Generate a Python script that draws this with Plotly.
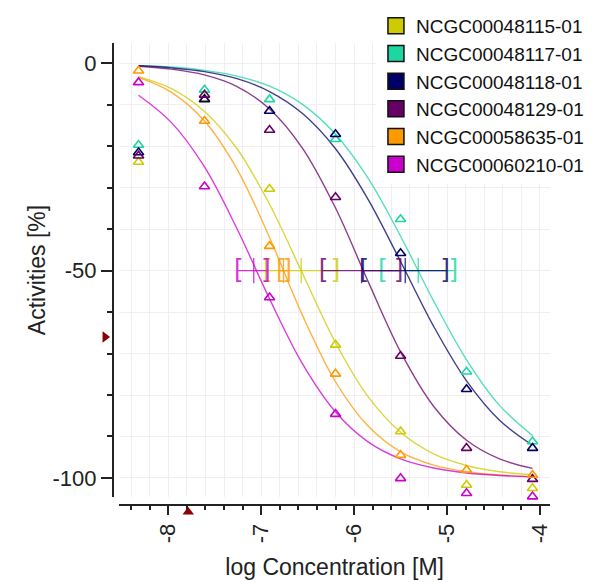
import plotly.graph_objects as go

# ---------------- data ----------------
compounds = ["NCGC00048115-01", "NCGC00048117-01", "NCGC00048118-01",
             "NCGC00048129-01", "NCGC00058635-01", "NCGC00060210-01"]
colors = ["#cccc00", "#1ed6a2", "#000066", "#660066", "#ff9900", "#cc00cc"]

log_conc = [-8.32, -7.61, -6.91, -6.20, -5.50, -4.79, -4.08]
act_48115 = [-23.8, -8.5, -30.3, -67.9, -88.8, -101.7, -102.5]
act_48117 = [-19.7, -6.4, -8.7, -18.3, -37.6, -74.4, -91.2]
act_48118 = [-21.5, -8.7, -11.5, -17.1, -45.8, -78.6, -92.8]
act_48129 = [-22.3, -7.6, -16.1, -32.3, -70.6, -92.8, -100.3]
act_58635 = [-1.8, -13.9, -44.1, -74.9, -94.5, -98.1, -99.3]
act_60210 = [-4.6, -29.7, -56.5, -84.6, -100.1, -103.7, -104.5]

curve_x = [-8.32, -7.965, -7.61, -7.26, -6.91, -6.555, -6.20, -5.85, -5.50, -5.145, -4.79, -4.435, -4.08]
fit_48115 = [-3.2, -6.1, -11.6, -20.6, -34.0, -50.7, -67.4, -80.4, -89.0, -94.2, -97.0, -98.5, -99.2]
fit_48117 = [-0.5, -0.9, -1.7, -3.1, -5.5, -9.9, -17.1, -27.7, -41.7, -57.3, -71.5, -82.5, -89.8]
fit_48118 = [-0.6, -1.1, -2.0, -3.7, -6.8, -12.1, -20.6, -32.8, -47.8, -63.4, -76.6, -86.1, -92.1]
fit_48129 = [-0.7, -1.4, -2.8, -5.6, -11.0, -20.5, -34.9, -52.6, -69.6, -82.7, -90.9, -95.4, -97.7]
fit_58635 = [-3.4, -7.0, -13.9, -25.5, -42.0, -60.8, -76.8, -87.5, -93.7, -96.9, -98.5, -99.3, -99.7]
fit_60210 = [-7.7, -14.3, -25.0, -39.9, -56.8, -72.5, -84.1, -91.3, -95.4, -97.6, -98.8, -99.4, -99.7]

ac50_y = -50
ac50 = [-6.57, -5.31, -5.45, -5.92, -6.76, -7.08]
ac50_lo = [-6.94, -5.70, -5.90, -6.34, -6.80, -7.25]
ac50_hi = [-6.19, -4.92, -5.01, -5.51, -6.71, -6.94]

marker_y_axis = [-8.68, -66.0]    # red handle beside the y axis (x, y)
marker_x_axis = [-7.785, -108.2]  # red handle below the x axis (x, y)

x_tick_vals = [-8, -7, -6, -5, -4]
x_tick_text = ["-8", "-7", "-6", "-5", "-4"]
y_tick_vals = [0, -50, -100]
y_tick_text = ["0", "-50", "-100"]

acts = [act_48115, act_48117, act_48118, act_48129, act_58635, act_60210]
fits = [fit_48115, fit_48117, fit_48118, fit_48129, fit_58635, fit_60210]

FONT = "Liberation Sans, Arial, sans-serif"
GRID = "#f3ecf3"
AXC = "#222222"

# ---------------- layout geometry (pixels) ----------------
W, H = 598, 582
L, R, T, B = 90, 558, 10, 525          # paper box
X0PX, X1PX = 119.3, 550                 # x axis line extent
Y0PX, Y1PX = 497, 43                    # y axis line extent (bottom, top)
XAX_PX, YAX_PX = 505, 113               # axis line positions
XR = [-8.527, -3.892]
YR = [-104.6, 4.9]

pw, ph = R - L, B - T
def fx(px): return (px - L) / pw
def fy(py): return (B - py) / ph
xpx_per = (X1PX - X0PX) / (XR[1] - XR[0])
ypx_per = (Y0PX - Y1PX) / (YR[1] - YR[0])
helper_xr = [XR[0] - (X0PX - L) / xpx_per, XR[1] + (R - X1PX) / xpx_per]
helper_yr = [YR[0] - (B - Y0PX) / ypx_per, YR[1] + (Y1PX - T) / ypx_per]

fig = go.Figure()

# fitted curves
for name, col, fyv in zip(compounds, colors, fits):
    fig.add_trace(go.Scatter(x=curve_x, y=fyv, mode="lines", line=dict(color=col, width=1.4, shape="spline"),
                             opacity=0.75, showlegend=False, hoverinfo="skip"))

# AC50 confidence brackets
for name, col, c, lo, hi in zip(compounds, colors, ac50, ac50_lo, ac50_hi):
    fig.add_trace(go.Scatter(x=[lo, hi], y=[ac50_y, ac50_y], mode="lines+text", text=["[", "]"],
                             textposition="middle center",
                             textfont=dict(family=FONT, size=26, color=col),
                             line=dict(color=col, width=1.3), opacity=0.8,
                             showlegend=False, hoverinfo="skip", cliponaxis=False))
    fig.add_trace(go.Scatter(x=[c], y=[ac50_y], mode="markers",
                             marker=dict(symbol="line-ns", size=18, line=dict(color=col, width=1.3)),
                             opacity=0.8, showlegend=False, hoverinfo="skip"))

# data points
for name, col, ay in zip(compounds, colors, acts):
    fig.add_trace(go.Scatter(x=log_conc, y=ay, mode="markers",
                             marker=dict(symbol="triangle-up-open", size=9, color=col, line=dict(color=col, width=1.6)),
                             showlegend=False, cliponaxis=False, name=name))

# legend entries
for name, col in zip(compounds, colors):
    fig.add_trace(go.Scatter(x=[None], y=[None], mode="markers", name=name,
                             marker=dict(symbol="square", size=16, color=col, line=dict(color="#111111", width=1.5))))

# red handles on the axes (helper subplot covering the whole paper, same data scale)
fig.add_trace(go.Scatter(x=[marker_y_axis[0]], y=[marker_y_axis[1]], mode="markers", xaxis="x2", yaxis="y2",
                         marker=dict(symbol="triangle-right", size=10, color="#8b0000"),
                         showlegend=False, hoverinfo="skip"))
fig.add_trace(go.Scatter(x=[marker_x_axis[0]], y=[marker_x_axis[1]], mode="markers", xaxis="x2", yaxis="y2",
                         marker=dict(symbol="triangle-up", size=10, color="#8b0000"),
                         showlegend=False, hoverinfo="skip"))

fig.update_layout(
    width=W, height=H, autosize=False,
    margin=dict(l=L, r=W - R, t=T, b=H - B, autoexpand=False),
    paper_bgcolor="white", plot_bgcolor="rgba(0,0,0,0)",
    font=dict(family=FONT, size=22, color=AXC),
    showlegend=True,
    legend=dict(x=0.611, y=1.006, xanchor="left", yanchor="top", bgcolor="white",
                font=dict(family=FONT, size=19, color="#111111"), borderwidth=0,
                itemsizing="trace"),
    xaxis=dict(domain=[fx(X0PX), fx(X1PX)], anchor="free", position=fy(XAX_PX), range=XR, automargin=False,
               tickmode="array", tickvals=x_tick_vals, ticktext=x_tick_text, tickangle=-90,
               ticks="outside", ticklen=9, tickwidth=1.5, tickcolor=AXC,
               showline=True, linecolor=AXC, linewidth=2,
               showgrid=True, gridcolor=GRID, gridwidth=1, zeroline=False,
               tickfont=dict(family=FONT, size=22, color=AXC),
               minor=dict(tickmode="linear", tick0=-8, dtick=0.2, ticks="outside", ticklen=4,
                          tickwidth=1.5, tickcolor=AXC, showgrid=True, gridcolor=GRID, gridwidth=1),
               title=dict(text="log Concentration [M]", font=dict(family=FONT, size=23, color=AXC), standoff=16)),
    yaxis=dict(domain=[fy(Y0PX), fy(Y1PX)], anchor="free", position=fx(YAX_PX), range=YR, automargin=False,
               tickmode="array", tickvals=y_tick_vals, ticktext=y_tick_text,
               ticks="outside", ticklen=11, tickwidth=1.5, tickcolor=AXC,
               showline=True, linecolor=AXC, linewidth=2,
               showgrid=True, gridcolor=GRID, gridwidth=1, zeroline=False,
               tickfont=dict(family=FONT, size=22, color=AXC),
               minor=dict(tickmode="linear", tick0=0, dtick=10, ticks="outside", ticklen=5,
                          tickwidth=1.5, tickcolor=AXC, showgrid=True, gridcolor=GRID, gridwidth=1),
               title=dict(text="Activities [%]", font=dict(family=FONT, size=23, color=AXC), standoff=0)),
    xaxis2=dict(domain=[0, 1], anchor="y2", range=helper_xr, visible=False, fixedrange=True),
    yaxis2=dict(domain=[0, 1], anchor="x2", range=helper_yr, visible=False, fixedrange=True),
)

fig.write_html("out.html", post_script="document.body.style.margin='0';",
               config={"displayModeBar": False})
